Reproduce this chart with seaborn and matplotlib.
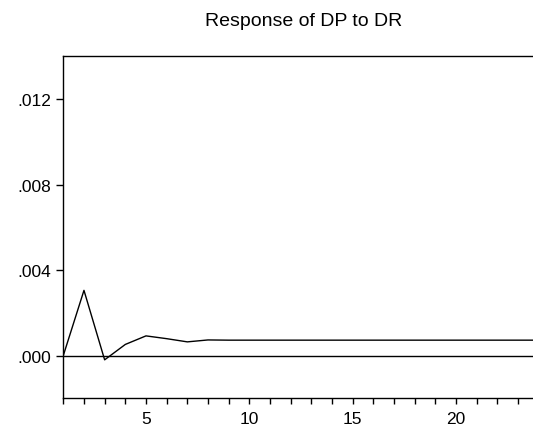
import numpy as np
import pandas as pd
import matplotlib
matplotlib.use('Agg')
import matplotlib.pyplot as plt
from matplotlib.ticker import MultipleLocator, FuncFormatter
import seaborn as sns

sns.set_theme(style='ticks')
plt.rcParams['font.family'] = ['Liberation Sans', 'DejaVu Sans']

# impulse response of DP to a shock in DR, 24 periods
periods = list(range(1, 25))
response = [0.0, 0.00305, -0.0002, 0.00052, 0.00092, 0.00079, 0.00064, 0.00073,
            0.00072, 0.00072, 0.00072, 0.00072, 0.00072, 0.00072, 0.00072, 0.00072,
            0.00072, 0.00072, 0.00072, 0.00072, 0.00072, 0.00072, 0.00072, 0.00072]
title = 'Response of DP to DR'

df = pd.DataFrame({'Period': periods, 'Response': response})

fig = plt.figure(figsize=(5.33, 4.35), dpi=100)
ax = fig.add_axes([63.3/533, 1-399.3/435, 475.4/533, 342/435])

sns.lineplot(x='Period', y='Response', data=df, ax=ax, color='black', linewidth=1.0)
ax.axhline(0, color='black', linewidth=1.0)

ax.set_xlim(1, 24)
ax.set_ylim(-0.002, 0.014)
ax.xaxis.set_major_locator(MultipleLocator(5))
ax.xaxis.set_minor_locator(MultipleLocator(1))
ax.set_yticks([0.0, 0.004, 0.008, 0.012])
ax.yaxis.set_major_formatter(FuncFormatter(lambda v, p: ('%.3f' % v).lstrip('0')))
ax.tick_params(axis='x', which='both', direction='out', length=4, width=1,
               labelsize=12.5, colors='black', pad=5)
ax.tick_params(axis='y', direction='out', length=5, width=1, labelsize=12.5,
               colors='black', pad=4)
ax.set_xlabel('')
ax.set_ylabel('')
for s in ax.spines.values():
    s.set_color('black')
    s.set_linewidth(1.0)

fig.text(304/533, 1-21.5/435, title, ha='center', va='center', fontsize=14,
         color='black')

fig.savefig('out.png', dpi=100)
